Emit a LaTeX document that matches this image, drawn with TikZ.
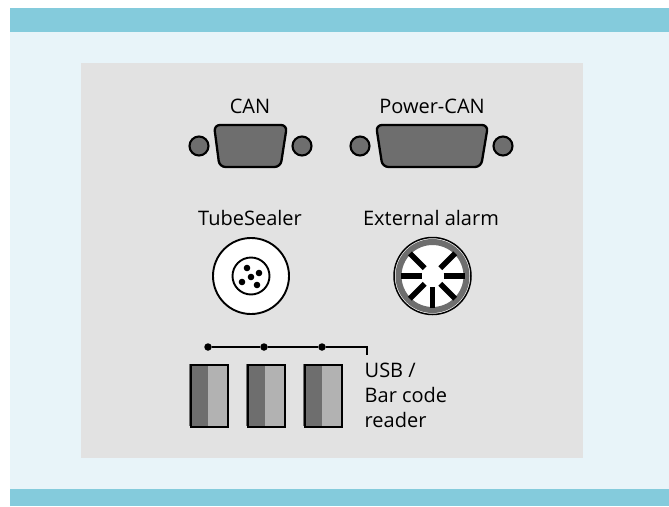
\documentclass[tikz,border=0pt]{standalone}
\usepackage{tikz}
\usepackage{xcolor}
\usepackage{fontspec}
\setmainfont{Open Sans}
\definecolor{panelBar}{HTML}{84CBDC}
\definecolor{panelBack}{HTML}{E8F4F9}
\definecolor{panelGray}{HTML}{E2E2E2}
\definecolor{portDark}{HTML}{6E6E6E}
\definecolor{portLight}{HTML}{B2B2B2}
\tikzset{
  portlabel/.style={font=\fontsize{20}{25}\selectfont, inner sep=0pt},
  screw/.style={circle, draw=black, line width=2.1pt, fill=portDark, minimum size=19pt, inner sep=0pt},
  shell/.style={draw=black, line width=2.3pt, fill=portDark, rounded corners=6pt},
  pin/.style={circle, fill=black, minimum size=6.6pt, inner sep=0pt},
  spoke/.style={black, line width=5.4pt},
  usbdark/.style={draw=none, fill=portDark, minimum width=19.5pt, minimum height=62pt, inner sep=0pt},
  usblight/.style={draw=none, fill=portLight, minimum width=19.5pt, minimum height=62pt, inner sep=0pt},
  usbframe/.style={draw=black, line width=2.4pt, minimum width=37.5pt, minimum height=62.5pt, inner sep=0pt},
  tap/.style={circle, fill=black, minimum size=7.5pt, inner sep=0pt}
}

\begin{document}
\begin{tikzpicture}[x=1pt, y=-1pt]
  \useasboundingbox (0,0) rectangle (669,506);
  \fill[panelBack] (10,8) rectangle (669,506);
  \fill[panelBar] (10,8) rectangle (669,32);
  \fill[panelBar] (10,489) rectangle (669,506);
  \fill[panelGray] (81,63) rectangle (583,458);

  \node[portlabel] (canLabel) at (250,106) {CAN};
  \node[portlabel] (powerLabel) at (432,106) {Power-CAN};
  \node[portlabel] (tubeLabel) at (250,218) {TubeSealer};
  \node[portlabel] (alarmLabel) at (431,218) {External alarm};

  \node[screw] (canLeft) at (199,146) {};
  \node[screw] (canRight) at (302,146) {};
  \draw[shell] (214,125) -- (287,125) -- (280.5,167) -- (219.5,167) -- cycle;
  \node[screw] (powerLeft) at (360,146) {};
  \node[screw] (powerRight) at (503,146) {};
  \draw[shell] (376,125) -- (488,125) -- (481,167) -- (382.5,167) -- cycle;

  \node[circle, draw=black, line width=1.9pt, fill=white, minimum size=76pt, inner sep=0pt] (tubeOuter) at (251,276) {};
  \node[circle, draw=black, line width=1.9pt, fill=white, minimum size=37pt, inner sep=0pt] (tubeInner) at (251,276) {};
  \node[pin] (pinA) at (247,268) {};
  \node[pin] (pinB) at (259,273) {};
  \node[pin] (pinC) at (251,277) {};
  \node[pin] (pinD) at (242,282) {};
  \node[pin] (pinE) at (257,285) {};

  \node[circle, draw=black, line width=1.5pt, fill=white, minimum size=77pt, inner sep=0pt] (alarmOuter) at (432.5,276) {};
  \node[circle, draw=portDark, line width=6pt, minimum size=68pt, inner sep=0pt] (alarmRing) at (432.5,276) {};
  \foreach \a in {0,45,90,135,180,225,315}
    \draw[spoke] (432.5,276) ++(\a:11) -- ++(\a:21);

  \foreach \x/\n in {189/usbA,246/usbB,303/usbC} {
    \node[usbdark, anchor=north west] (\n Dark) at (\x,363.5) {};
    \node[usblight, anchor=north west] (\n Light) at (\x+19,363.5) {};
    \node[usbframe, anchor=north west] (\n) at (\x+.5,363.5) {};
  }

  \node[tap] (tapA) at (208,347) {};
  \node[tap] (tapB) at (264,347) {};
  \node[tap] (tapC) at (322,347) {};
  \coordinate (tapEnd) at (367,354.5);
  \draw[black, line width=1.2pt] (tapA) -- (tapB) -- (tapC) -| (tapEnd);
  \node[portlabel, anchor=base west] (usbLabel) at (364.5,377) {USB /};
  \node[portlabel, anchor=base west] (barLabel) at (364.5,402) {Bar code};
  \node[portlabel, anchor=base west] (readerLabel) at (364.5,427) {reader};
\end{tikzpicture}
\end{document}
